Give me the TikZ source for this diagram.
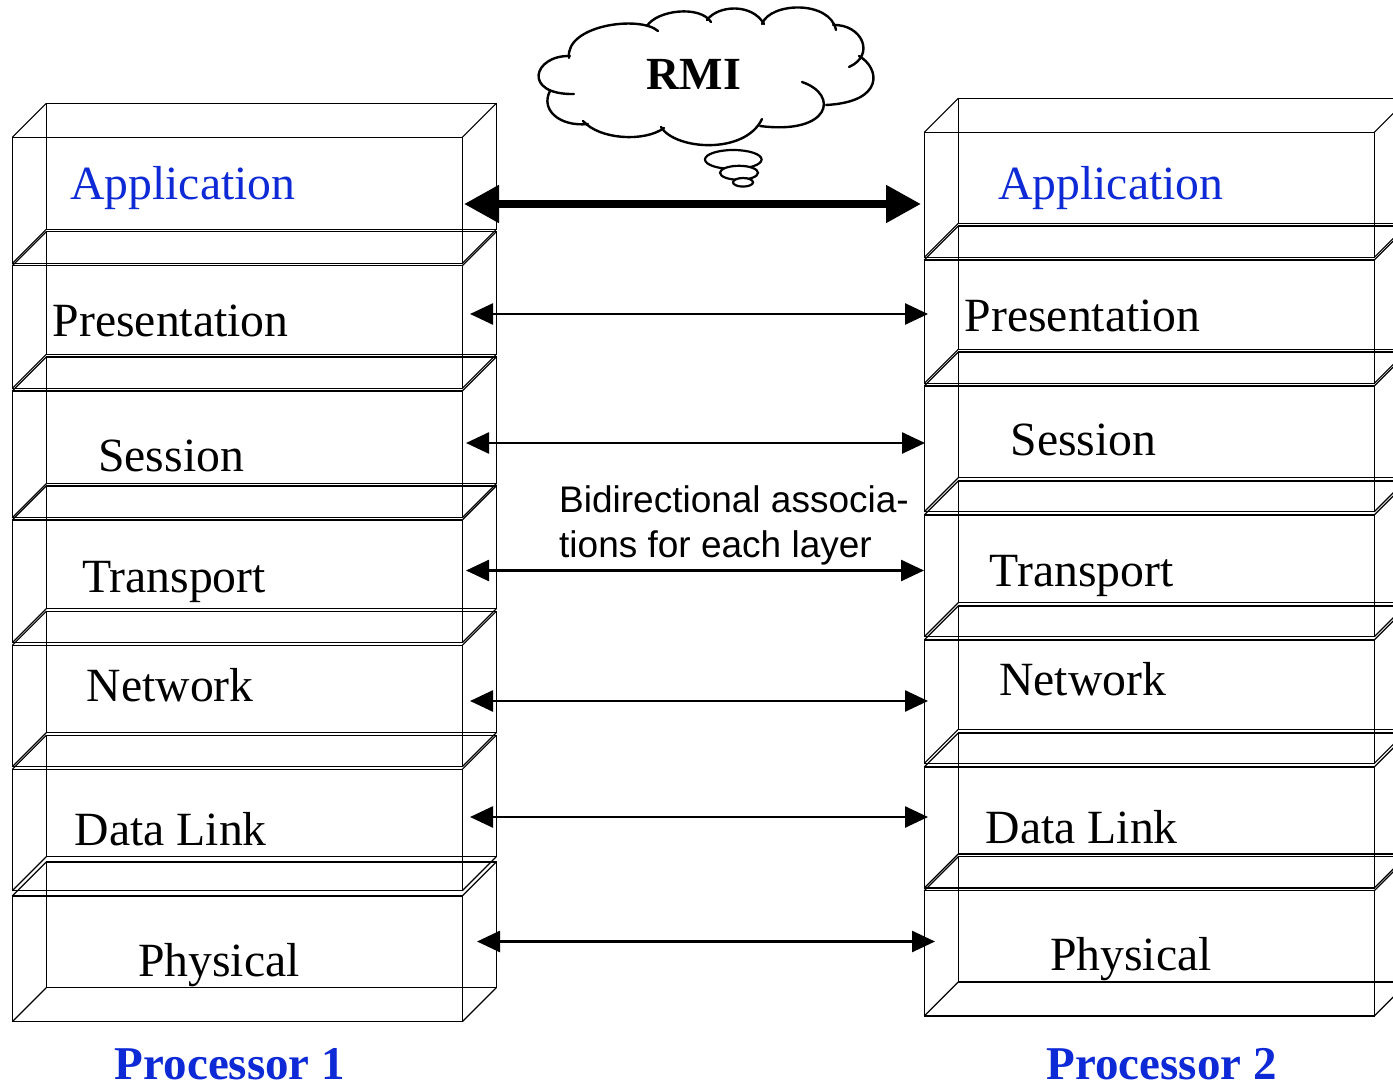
\documentclass[tikz,border=0pt]{standalone}
\usepackage{fontspec}
\setmainfont{Liberation Serif}
\newfontfamily\helv{Liberation Sans}
\usetikzlibrary{arrows.meta,calc}
\definecolor{procblue}{RGB}{14,42,214}
\tikzset{
  face/.style={draw, line width=1.2pt, minimum width=450pt, inner sep=0pt, outer sep=0pt, anchor=north west},
  edge/.style={line width=1.2pt},
  layer/.style={font=\fontsize{47.7}{50}\selectfont, anchor=base west, inner sep=0pt},
  proc/.style={font=\fontsize{47}{50}\selectfont\bfseries, text=procblue, anchor=base, inner sep=0pt, text depth=0pt},
  thinarrow/.style={line width=2.6pt, {Triangle[length=23pt,width=21pt]}-{Triangle[length=23pt,width=21pt]}},
  thickarrow/.style={line width=8pt, {Triangle[length=35pt,width=36pt]}-{Triangle[length=35pt,width=36pt]}},
  cloudline/.style={line width=2.4pt, line cap=round},
  bubble/.style={draw, fill=white, line width=2.2pt}
}
\newcommand\layerbox[4]{%
  \node[face, minimum height={#4-#3}] (#1) at (#2,#3) {};
  \draw[edge] ($(#1.north west)+(34,-34)$) rectangle ($(#1.south east)+(34,-34)$);
  \foreach \aa in {north west,north east,south west,south east}
    \draw[edge] (#1.\aa) -- ++(34,-34);
}
\begin{document}
\begin{tikzpicture}[x=1pt,y=-1pt]
\fill[white] (0,0) rectangle (1393,1089);
\useasboundingbox (0,0) rectangle (1393,1089);
\clip (0,0) rectangle (1393,1089);

% left stack
\layerbox{L1}{12.3}{137.3}{263.3}
\layerbox{L2}{12.3}{265.7}{388.3}
\layerbox{L3}{12.3}{391}{517.7}
\layerbox{L4}{12.3}{520}{642.7}
\layerbox{L5}{12.3}{645.3}{766.7}
\layerbox{L6}{12.3}{769.3}{890.7}
\layerbox{L7}{12.3}{896}{1021.7}
% right stack
\layerbox{R1}{924.3}{132.3}{257.3}
\layerbox{R2}{924.3}{260}{383.3}
\layerbox{R3}{924.3}{386}{511.7}
\layerbox{R4}{924.3}{515}{636.7}
\layerbox{R5}{924.3}{640}{763.3}
\layerbox{R6}{924.3}{767}{888}
\layerbox{R7}{924.3}{890.7}{1016}

% labels
\node[layer, text=procblue] (la1) at (70,200) {Application};
\node[layer] (la2) at (52.5,336.7) {Presentation};
\node[layer] (la3) at (98,471.7) {Session};
\node[layer] (la4) at (82,592.7) {Transport};
\node[layer] (la5) at (86.5,701.7) {Network};
\node[layer] (la6) at (74.5,845) {Data Link};
\node[layer] (la7) at (138,976) {Physical};
\node[layer, text=procblue] (ra1) at (998,200) {Application};
\node[layer] (ra2) at (964.5,331.7) {Presentation};
\node[layer] (ra3) at (1010.5,455) {Session};
\node[layer] (ra4) at (989.5,586.7) {Transport};
\node[layer] (ra5) at (999,695) {Network};
\node[layer] (ra6) at (985.5,843.3) {Data Link};
\node[layer] (ra7) at (1050,970) {Physical};

\node[proc] (pr1) at (230,1079) {Processor 1};
\node[proc] (pr2) at (1161.7,1079) {Processor 2};

% association arrows
\coordinate (a1l) at (464,204);   \coordinate (a1r) at (921,204);
\coordinate (a2l) at (470,314);   \coordinate (a2r) at (928,314);
\coordinate (a3l) at (466,443);   \coordinate (a3r) at (925,443);
\coordinate (a4l) at (466,570.5); \coordinate (a4r) at (924,570.5);
\coordinate (a5l) at (470,701);   \coordinate (a5r) at (928,701);
\coordinate (a6l) at (470,817);   \coordinate (a6r) at (928,817);
\coordinate (a7l) at (477,941.5); \coordinate (a7r) at (935,941.5);
\draw[thickarrow] (a1l) -- (a1r);
\draw[thinarrow] (a2l) -- (a2r);
\draw[thinarrow] (a3l) -- (a3r);
\draw[thinarrow] (a4l) -- (a4r);
\draw[thinarrow] (a5l) -- (a5r);
\draw[thinarrow] (a6l) -- (a6r);
\draw[thinarrow] (a7l) -- (a7r);

\node[font=\helv\fontsize{37}{44}\selectfont, anchor=base west, inner sep=0pt] (bid1) at (559,512.7) {Bidirectional associa-};
\node[font=\helv\fontsize{37}{44}\selectfont, anchor=base west, inner sep=0pt] (bid2) at (559,557) {tions for each layer};

% cloud
\draw[cloudline] (570,56) .. controls (533,55) and (522,95) .. (574,94);
\draw[cloudline] (550,91) .. controls (540,110) and (560,127) .. (588,124);
\draw[cloudline] (583,121) .. controls (600,140) and (645,142) .. (664,128);
\draw[cloudline] (661,127) .. controls (675,150) and (745,155) .. (762,119);
\draw[cloudline] (802,82) .. controls (840,95) and (830,135) .. (760,126);
\draw[cloudline] (859,56) .. controls (880,68) and (885,102) .. (826,105);
\draw[cloudline] (833,25) .. controls (862,24) and (876,55) .. (849,67);
\draw[cloudline] (762,24) .. controls (770,2) and (830,0) .. (836,30);
\draw[cloudline] (707,20) .. controls (718,5) and (752,3) .. (764,24);
\draw[cloudline] (647,26) .. controls (657,10) and (700,5) .. (711,22);
\draw[cloudline] (569,58) .. controls (565,25) and (640,15) .. (658,31);
\node[font=\fontsize{46}{50}\selectfont\bfseries, anchor=base, inner sep=0pt] (rmi) at (694,90) {RMI};
\path[bubble] (733.3,159.5) ellipse [x radius=28.3, y radius=9.5];
\path[bubble] (739,172.8) ellipse [x radius=19, y radius=7];
\path[bubble] (743,182.3) ellipse [x radius=10, y radius=4.3];
\end{tikzpicture}
\end{document}
